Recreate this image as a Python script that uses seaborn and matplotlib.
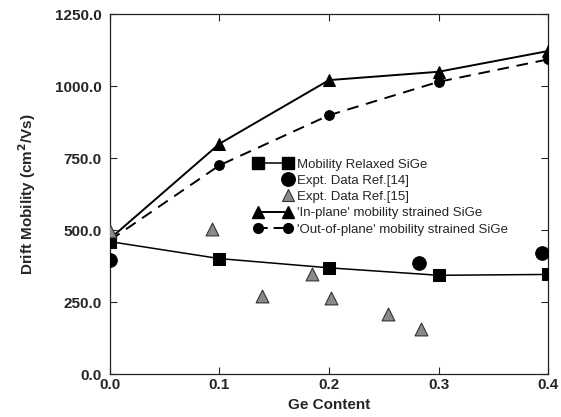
import numpy as np
import pandas as pd
import matplotlib
matplotlib.use("Agg")
import matplotlib.pyplot as plt
import seaborn as sns
from matplotlib.lines import Line2D
from matplotlib.legend_handler import HandlerLine2D
from matplotlib.ticker import FormatStrFormatter

# ---- data ----
ge_model = [0.0, 0.1, 0.2, 0.3, 0.4]
relaxed = [460, 401, 369, 343, 346]
in_plane = [470, 800, 1021, 1050, 1122]
out_plane = [465, 725, 899, 1015, 1093]

ref14_x = [0.0, 0.282, 0.394]
ref14_y = [395, 384, 421]

ref15_x = [0.0, 0.093, 0.139, 0.184, 0.2015, 0.254, 0.284]
ref15_y = [497, 505, 270, 349, 263, 210, 155]

labels = ["Mobility Relaxed SiGe", "Expt. Data Ref.[14]", "Expt. Data Ref.[15]",
          "'In-plane' mobility strained SiGe", "'Out-of-plane' mobility strained SiGe"]
xticks = [0.0, 0.1, 0.2, 0.3, 0.4]
yticks = [0, 250, 500, 750, 1000, 1250]

sns.set_style("ticks")
plt.rcParams['font.family'] = ['Liberation Sans', 'DejaVu Sans']

fig = plt.figure(figsize=(5.61, 4.17), dpi=100)
ax = fig.add_axes([0.196, 0.103, 0.781, 0.863])

sns.lineplot(x=ge_model, y=relaxed, ax=ax, color='k', lw=1.1, marker='s',
             markersize=9, markeredgecolor='k', estimator=None, zorder=3)
sns.lineplot(x=ge_model, y=in_plane, ax=ax, color='k', lw=1.4, marker='^',
             markersize=8, markeredgecolor='k', estimator=None, zorder=3)
sns.lineplot(x=ge_model, y=out_plane, ax=ax, color='k', lw=1.4, marker='o',
             markersize=7, markeredgecolor='k', estimator=None, zorder=3,
             dashes=False, linestyle=(0, (6, 4)))
sns.scatterplot(x=ref14_x, y=ref14_y, ax=ax, color='k', marker='o', s=95,
                edgecolor='k', zorder=4)
sns.scatterplot(x=ref15_x, y=ref15_y, ax=ax, color='#8a8a8a', marker='^', s=85,
                edgecolor='#333333', linewidth=0.8, zorder=4)

ax.set_xlim(0, 0.4)
ax.set_ylim(0, 1250)
ax.set_xticks(xticks)
ax.set_yticks(yticks)
ax.xaxis.set_major_formatter(FormatStrFormatter('%.1f'))
ax.yaxis.set_major_formatter(FormatStrFormatter('%.1f'))
ax.tick_params(direction='in', top=True, right=True, length=5, width=0.8,
               labelsize=11)
ax.tick_params(axis='x', pad=3)
ax.tick_params(axis='y', pad=6)
for lab in ax.get_xticklabels() + ax.get_yticklabels():
    lab.set_fontweight('bold')
for sp in ax.spines.values():
    sp.set_linewidth(0.9)
    sp.set_color('#222222')

ax.set_xlabel("Ge Content", fontsize=11, fontweight='bold', labelpad=4)
ax.set_ylabel("Drift Mobility (cm$^\\mathbf{2}$/Vs)", fontsize=11, fontweight='bold', labelpad=12)


class RightMarkerHandler(HandlerLine2D):
    def get_xdata(self, legend, xdescent, ydescent, width, height, fontsize):
        x = -xdescent + width - 0.3 * fontsize
        xdata = np.array([x - 0.5, x + 0.5])
        return xdata, np.array([x])


handles = [
    Line2D([], [], color='k', lw=1.1, marker='s', markersize=9),
    Line2D([], [], color='k', lw=0, marker='o', markersize=9.7),
    Line2D([], [], color='#8a8a8a', lw=0, marker='^', markersize=9,
           markeredgecolor='#333333', markeredgewidth=0.8),
    Line2D([], [], color='k', lw=1.4, marker='^', markersize=8),
    Line2D([], [], color='k', lw=1.4, marker='o', markersize=7, linestyle=(0, (5, 3))),
]
hmap = {handles[1]: RightMarkerHandler(numpoints=1),
        handles[2]: RightMarkerHandler(numpoints=1)}
leg = ax.legend(handles, labels, handler_map=hmap, loc='upper left',
                bbox_to_anchor=(0.328, 0.599), frameon=False, fontsize=9.5,
                numpoints=2, handlelength=2.88, handletextpad=0.38,
                labelspacing=0.3, borderpad=0, borderaxespad=0)

fig.savefig("out.png", dpi=100)
